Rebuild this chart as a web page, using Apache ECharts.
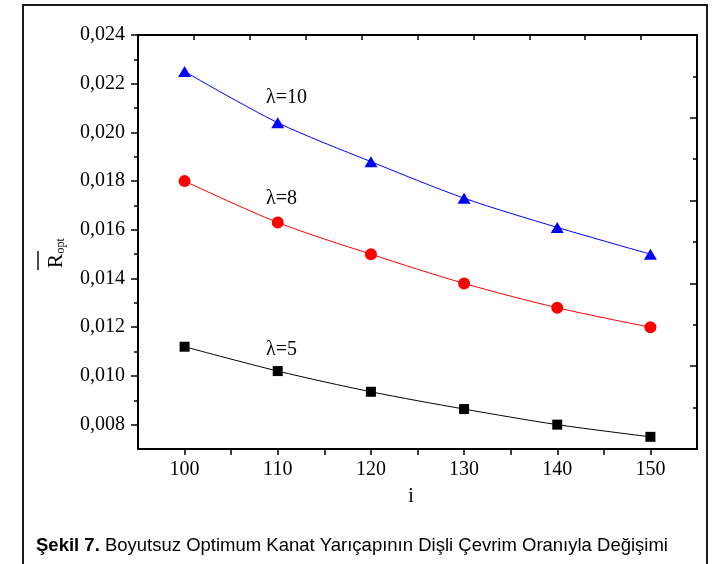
<!DOCTYPE html>
<html>
<head>
<meta charset="utf-8">
<script src="https://cdn.jsdelivr.net/npm/echarts@6/dist/echarts.min.js"></script>
<style>
  html, body { margin: 0; padding: 0; background: #fff; }
  #chart { width: 717px; height: 564px; }
</style>
</head>
<body>
<div id="chart"></div>
<script>
// Gear ratio i (x axis)
const iValues = [100, 110, 120, 130, 140, 150];
// Dimensionless optimum blade radius for each lambda
const rLambda10 = [0.0225, 0.0204, 0.0188, 0.0173, 0.0161, 0.0150];
const rLambda8  = [0.0180, 0.0163, 0.0150, 0.0138, 0.0128, 0.0120];
const rLambda5  = [0.0112, 0.0102, 0.00935, 0.00864, 0.0080, 0.0075];
// Axis tick labels
const yMajorTicks = [0.008, 0.010, 0.012, 0.014, 0.016, 0.018, 0.020, 0.022, 0.024];
const yMinorTicks = [0.009, 0.011, 0.013, 0.015, 0.017, 0.019, 0.021, 0.023];
const xTickLabels = [100, 110, 120, 130, 140, 150];
// Curve annotations
const curveNames = ['λ=10', 'λ=8', 'λ=5'];
const captionBold = 'Şekil 7.';
const captionText = ' Boyutsuz Optimum Kanat Yarıçapının Dişli Çevrim Oranıyla Değişimi';

const SERIF = '"Liberation Serif", "Times New Roman", serif';
const SANS = '"Liberation Sans", Arial, Helvetica, sans-serif';

const toPairs = (ys) => iValues.map((x, k) => [x, ys[k]]);

function lineSeries(name, ys, color, symbol, size) {
  return {
    name: name,
    type: 'line',
    xAxisIndex: 0,
    yAxisIndex: 0,
    data: toPairs(ys),
    smooth: 0.3,
    symbol: symbol,
    symbolSize: size,
    showSymbol: true,
    itemStyle: { color: color, borderWidth: 0 },
    lineStyle: { color: color, width: 1 },
    emphasis: { disabled: true },
    z: 3
  };
}

const chart = echarts.init(document.getElementById('chart'), null, { renderer: 'canvas' });

const axisLineStyle = { show: true, onZero: false, lineStyle: { color: '#000', width: 2 } };

chart.setOption({
  animation: false,
  backgroundColor: '#fff',
  grid: { left: 138, top: 35, width: 559, height: 414, containLabel: false },
  xAxis: [
    {
      type: 'value', position: 'bottom', min: 95, max: 155, interval: 5,
      axisLine: axisLineStyle,
      axisTick: { show: true, inside: false, length: 6, lineStyle: { color: '#000', width: 1.5 } },
      axisLabel: {
        show: true, margin: 11, color: '#000', fontFamily: SERIF, fontSize: 20,
        showMinLabel: false, showMaxLabel: false,
        formatter: (v) => (xTickLabels.indexOf(v) >= 0 ? String(v) : '')
      },
      splitLine: { show: false }
    },
    {
      type: 'value', position: 'top', min: 0, max: 10, interval: 1,
      axisLine: axisLineStyle,
      axisTick: { show: true, inside: true, length: 5, lineStyle: { color: '#000', width: 1.5 } },
      axisLabel: { show: false },
      splitLine: { show: false }
    }
  ],
  yAxis: [
    {
      type: 'value', position: 'left', offset: 0, min: 0.007, max: 0.024,
      axisLine: axisLineStyle,
      axisTick: { show: true, inside: false, length: 7, customValues: yMajorTicks,
                  lineStyle: { color: '#000', width: 1.5 } },
      axisLabel: {
        show: true, margin: 13, color: '#000', fontFamily: SERIF, fontSize: 20,
        customValues: yMajorTicks,
        formatter: (v) => v.toFixed(3).replace('.', ',')
      },
      splitLine: { show: false }
    },
    {
      type: 'value', position: 'left', offset: 0, min: 0.007, max: 0.024,
      axisLine: { show: false },
      axisTick: { show: true, inside: false, length: 4, customValues: yMinorTicks,
                  lineStyle: { color: '#000', width: 1.5 } },
      axisLabel: { show: false },
      splitLine: { show: false }
    },
    {
      type: 'value', position: 'right', offset: 0, min: 0, max: 5, interval: 1,
      axisLine: axisLineStyle,
      axisTick: { show: true, inside: true, length: 7, lineStyle: { color: '#000', width: 1.5 } },
      minorTick: { show: true, splitNumber: 2, length: 4, lineStyle: { color: '#000', width: 1.5 } },
      axisLabel: { show: false },
      splitLine: { show: false }
    }
  ],
  series: [
    lineSeries(curveNames[0], rLambda10, '#0000ff', 'triangle', [13, 11]),
    lineSeries(curveNames[1], rLambda8, '#ff0000', 'circle', 12),
    lineSeries(curveNames[2], rLambda5, '#000000', 'rect', 10)
  ],
  graphic: [
    // outer frame
    {
      type: 'rect', z: 0, silent: true,
      shape: { x: 23, y: 5, width: 684, height: 620 },
      style: { fill: 'none', stroke: '#1a1a1a', lineWidth: 2 }
    },
    // curve labels
    { type: 'text', x: 266, y: 98, style: { text: curveNames[0], font: '20px ' + SERIF, fill: '#000', align: 'left', verticalAlign: 'middle' } },
    { type: 'text', x: 266, y: 199, style: { text: curveNames[1], font: '20px ' + SERIF, fill: '#000', align: 'left', verticalAlign: 'middle' } },
    { type: 'text', x: 266, y: 350, style: { text: curveNames[2], font: '20px ' + SERIF, fill: '#000', align: 'left', verticalAlign: 'middle' } },
    // x axis title
    { type: 'text', x: 411, y: 497, style: { text: 'i', font: '20px ' + SERIF, fill: '#000', align: 'center', verticalAlign: 'middle' } },
    // y axis title: R with overline and subscript "opt", reading bottom to top
    {
      type: 'group', x: 56, y: 261, rotation: Math.PI / 2,
      children: [
        { type: 'text', x: 0, y: 0, style: { text: 'R', font: '21px ' + SERIF, fill: '#000', align: 'center', verticalAlign: 'middle' } },
        { type: 'text', x: 7.5, y: 5, style: { text: 'opt', font: '12px ' + SERIF, fill: '#000', align: 'left', verticalAlign: 'middle' } },
        { type: 'line', shape: { x1: -9, y1: -18, x2: 10, y2: -18 }, style: { stroke: '#000', lineWidth: 1.4 } }
      ]
    },
    // caption
    {
      type: 'text', x: 36, y: 546,
      style: {
        text: '{b|' + captionBold + '}{r|' + captionText + '}',
        fill: '#000', align: 'left', verticalAlign: 'middle',
        rich: {
          b: { fontFamily: SANS, fontSize: 18.5, fontWeight: 'bold', fill: '#000' },
          r: { fontFamily: SANS, fontSize: 18.5, fill: '#000' }
        }
      }
    }
  ]
});
</script>
</body>
</html>
